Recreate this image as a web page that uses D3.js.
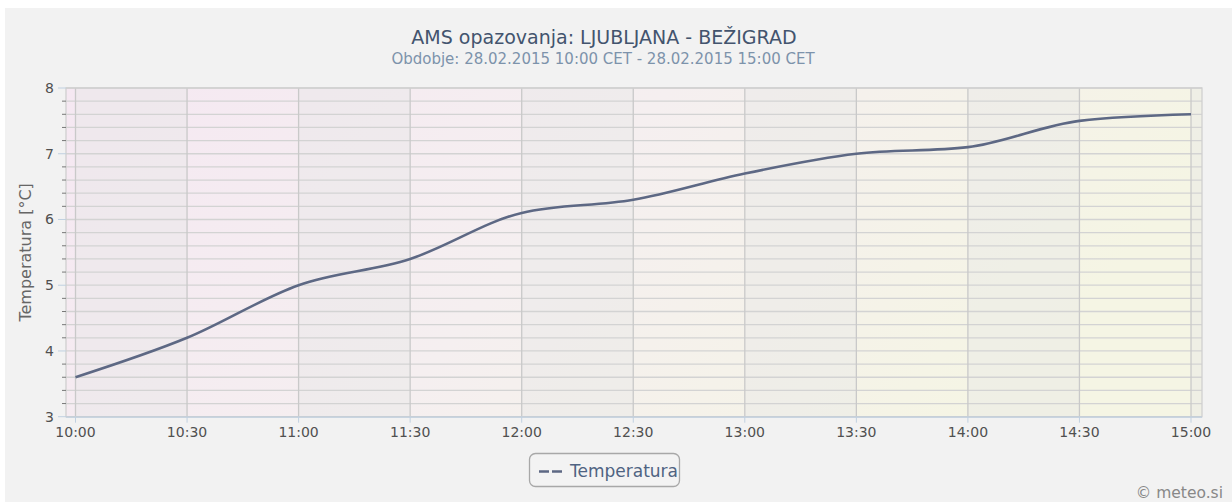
<!DOCTYPE html>
<html>
<head>
<meta charset="utf-8">
<script src="https://cdn.jsdelivr.net/npm/d3@7"></script>
<style>
  body { margin: 0; background: #fff; }
  text { font-family: "DejaVu Sans", sans-serif; }
</style>
</head>
<body>
<div id="canvas"></div>
<script>
// observation times (every 30 min) and temperatures
const times = ["10:00", "10:30", "11:00", "11:30", "12:00", "12:30",
  "13:00", "13:30", "14:00", "14:30", "15:00"];
const temps = [3.6, 4.2, 5.0, 5.4, 6.1, 6.3, 6.7, 7.0, 7.1, 7.5, 7.6];
const yTicks = [3, 4, 5, 6, 7, 8];

const W = 1232, H = 502;
const margin = { left: 66, right: 30, top: 88, bottom: 85 };
const pad = 9.5; // time padding inside plot area

const parse = d3.timeParse("%H:%M");
const data = times.map((t, i) => ({ t: parse(t), v: temps[i] }));

const svg = d3.select("#canvas").append("svg")
  .attr("width", W).attr("height", H);

svg.append("rect").attr("x", 5).attr("y", 8)
  .attr("width", W - 5).attr("height", H - 8).attr("fill", "#f2f2f2");

const plotW = W - margin.left - margin.right;

const x = d3.scaleTime()
  .domain(d3.extent(data, d => d.t))
  .range([margin.left + pad, margin.left + plotW - 11]);
const y = d3.scaleLinear().domain([3, 8]).range([margin.top + 328.7, margin.top]);

// background gradient
const defs = svg.append("defs");
const grad = defs.append("linearGradient").attr("id", "bg")
  .attr("x1", "0%").attr("y1", "0%").attr("x2", "100%").attr("y2", "25%");
grad.append("stop").attr("offset", "0%").attr("stop-color", "#f5e8f2");
grad.append("stop").attr("offset", "50%").attr("stop-color", "#f5eff0");
grad.append("stop").attr("offset", "100%").attr("stop-color", "#f5f5e4");

const pTop = y(8), pBottom = y(3);
const pLeft = margin.left, pRight = margin.left + plotW;

svg.append("rect").attr("x", pLeft).attr("y", pTop)
  .attr("width", pRight - pLeft).attr("height", pBottom - pTop)
  .attr("fill", "url(#bg)");

// alternating gray bands, starting at each full hour
const bandStarts = data.filter((d, i) => i % 2 === 0).map(d => d.t);
svg.append("g").selectAll("rect").data(bandStarts).enter().append("rect")
  .attr("x", d => x(d))
  .attr("y", pTop)
  .attr("width", d => Math.min(x(d3.timeMinute.offset(d, 30)), pRight) - x(d))
  .attr("height", pBottom - pTop)
  .attr("fill", "rgba(230,230,230,0.42)");

// horizontal grid (minor every 0.2)
const minor = d3.range(3, 8.001, 0.2);
svg.append("g").selectAll("line").data(minor).enter().append("line")
  .attr("x1", pLeft).attr("x2", pRight)
  .attr("y1", d => y(d)).attr("y2", d => y(d))
  .attr("stroke", "#d3d3d3").attr("stroke-width", 1.3);

// vertical grid
svg.append("g").selectAll("line").data(data).enter().append("line")
  .attr("x1", d => x(d.t)).attr("x2", d => x(d.t))
  .attr("y1", pTop).attr("y2", pBottom)
  .attr("stroke", "#c9c9c9").attr("stroke-width", 1.3);

// plot border
svg.append("rect").attr("x", pLeft).attr("y", pTop)
  .attr("width", pRight - pLeft).attr("height", pBottom - pTop)
  .attr("fill", "none").attr("stroke", "#cfcfcf").attr("stroke-width", 1.3);

// y axis ticks
const isMajor = d => yTicks.includes(Math.round(d * 10) / 10);
svg.append("g").selectAll("line").data(minor).enter().append("line")
  .attr("x1", d => isMajor(d) ? pLeft - 8 : pLeft - 4)
  .attr("x2", pLeft)
  .attr("y1", d => y(d)).attr("y2", d => y(d))
  .attr("stroke", d => isMajor(d) ? "#c0d0e0" : "#777")
  .attr("stroke-width", 1);

svg.append("g").selectAll("text").data(yTicks).enter().append("text")
  .attr("x", pLeft - 12).attr("y", d => y(d) + 5)
  .attr("text-anchor", "end")
  .attr("font-size", 14).attr("fill", "#505050")
  .text(d => d);

// x axis
svg.append("line").attr("x1", pLeft).attr("x2", pRight)
  .attr("y1", pBottom + 0.5).attr("y2", pBottom + 0.5)
  .attr("stroke", "#c0d0e0").attr("stroke-width", 1.3);

svg.append("g").selectAll("line").data(data).enter().append("line")
  .attr("x1", d => x(d.t)).attr("x2", d => x(d.t))
  .attr("y1", pBottom).attr("y2", pBottom + 6)
  .attr("stroke", "#c0d0e0").attr("stroke-width", 1);

svg.append("g").selectAll("text").data(data).enter().append("text")
  .attr("x", d => x(d.t)).attr("y", pBottom + 20.5)
  .attr("text-anchor", "middle")
  .attr("font-size", 14).attr("fill", "#505050")
  .text(d => d3.timeFormat("%H:%M")(d.t));

// y label
svg.append("text")
  .attr("transform", `translate(31, ${(pTop + pBottom) / 2}) rotate(-90)`)
  .attr("text-anchor", "middle")
  .attr("font-size", 16).attr("fill", "#666")
  .text("Temperatura [°C]");

// line
const line = d3.line().x(d => x(d.t)).y(d => y(d.v)).curve(d3.curveMonotoneX);
svg.append("path").datum(data)
  .attr("d", line)
  .attr("fill", "none")
  .attr("stroke", "#5d6884")
  .attr("stroke-width", 2.6);

// titles
svg.append("text").attr("x", 604).attr("y", 44)
  .attr("text-anchor", "middle").attr("font-size", 19).attr("fill", "#43546e")
  .text("AMS opazovanja: LJUBLJANA - BEŽIGRAD");
svg.append("text").attr("x", 603).attr("y", 64)
  .attr("text-anchor", "middle").attr("font-size", 15).attr("fill", "#7d93ab")
  .text("Obdobje: 28.02.2015 10:00 CET - 28.02.2015 15:00 CET");

// legend
const lg = svg.append("g");
lg.append("rect").attr("x", 529.5).attr("y", 453.5).attr("width", 150).attr("height", 33)
  .attr("rx", 6).attr("fill", "#f3f3f3").attr("stroke", "#a8a8a8").attr("stroke-width", 1.3);
lg.append("line").attr("x1", 539).attr("x2", 563).attr("y1", 471.5).attr("y2", 471.5)
  .attr("stroke", "#5d6884").attr("stroke-width", 2.6).attr("stroke-dasharray", "10,3");
lg.append("text").attr("x", 570).attr("y", 477)
  .attr("font-size", 17).attr("fill", "#4f6382").text("Temperatura");

svg.append("text").attr("x", 1223).attr("y", 498)
  .attr("text-anchor", "end").attr("font-size", 15.5).attr("fill", "#888")
  .text("© meteo.si");
</script>
</body>
</html>
